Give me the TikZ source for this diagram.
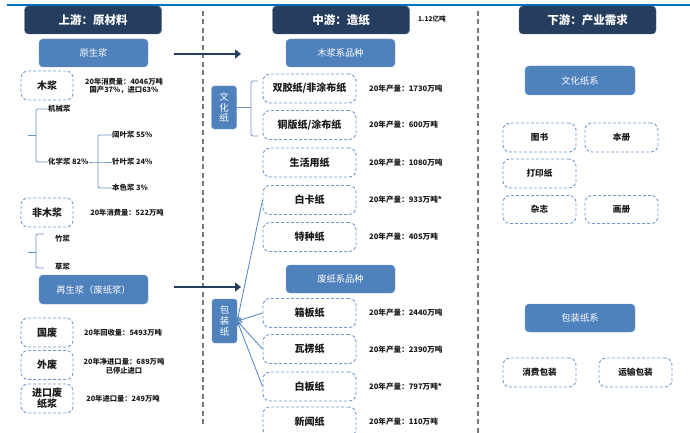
\documentclass[tikz,border=0pt]{standalone}
\usepackage{fontspec}
\setmainfont{Noto Sans CJK SC}
\usetikzlibrary{arrows.meta}
\definecolor{navy}{RGB}{37,61,94}
\definecolor{midblue}{RGB}{79,129,189}
\definecolor{dashblue}{RGB}{112,154,208}
\definecolor{topblue}{RGB}{0,112,192}
\definecolor{divgray}{RGB}{120,120,120}
\definecolor{txt}{RGB}{25,25,25}
\tikzset{
  hdr/.style={fill=navy,draw=navy!80!white,rounded corners=4pt,minimum width=137pt,minimum height=28pt,text=white,font=\fontsize{11.5}{12}\selectfont\bfseries,inner sep=0pt},
  bluebox/.style={fill=midblue,draw=midblue!80!white,rounded corners=4pt,minimum width=109pt,minimum height=28pt,text=white,font=\fontsize{9.3}{10}\selectfont,inner sep=0pt},
  vbox/.style={fill=midblue,draw=midblue!80!white,rounded corners=3pt,minimum width=25pt,text=white,font=\fontsize{9.5}{10.8}\selectfont,align=center,inner sep=0pt},
  dbox/.style={draw=dashblue,line width=0.9pt,dash pattern=on 3pt off 2pt,rounded corners=7pt,minimum height=29pt,inner sep=0pt,font=\fontsize{10}{11.5}\selectfont\bfseries,text=txt,align=center},
  lbox/.style={dbox,minimum width=52pt},
  mbox/.style={dbox,minimum width=93pt},
  rbox/.style={dbox,minimum width=73pt,font=\fontsize{8.6}{10}\selectfont\bfseries},
  data/.style={font=\fontsize{7.3}{8.6}\selectfont\bfseries,text=txt,inner sep=0pt,align=center},
  mdata/.style={data,anchor=west,font=\fontsize{7.6}{8.6}\selectfont\bfseries},
  blab/.style={font=\fontsize{7.4}{8.6}\selectfont\bfseries,text=txt,anchor=west,inner sep=0pt},
  brace/.style={draw=midblue!85!white,line width=0.8pt,rounded corners=2pt},
  bigarrow/.style={draw=navy,line width=2.8pt,-{Triangle[length=6pt,width=9pt]}},
  thin/.style={draw=midblue,line width=0.8pt,-{Stealth[length=5pt,width=5pt,open]}},
  divider/.style={draw=divgray,line width=1.1pt,dash pattern=on 5pt off 3.5pt},
}
\begin{document}
\begin{tikzpicture}[x=1pt,y=-1pt]
\useasboundingbox (0,0) rectangle (690,433);
% top line
\draw[topblue,line width=2.2pt] (7,5) -- (690,5);
% dividers
\draw[divider] (203,11) -- (203,425);
\draw[divider] (478,11) -- (478,433);
% headers
\node[hdr] (h1) at (93,20) {上游：原材料};
\node[hdr] (h2) at (341,20) {中游：造纸};
\node[hdr] (h3) at (587.5,20) {下游：产业需求};
\node[font=\fontsize{6.6}{7}\selectfont\bfseries,text=txt,anchor=west,inner sep=0pt] (total) at (418,19) {1.12亿吨};
% blue boxes
\node[bluebox] (yuansheng) at (93.5,53) {原生浆};
\node[bluebox,minimum height=29pt] (zaisheng) at (93.5,289.5) {再生浆（废纸浆）};
\node[bluebox] (mujiangxi) at (340.5,53) {木浆系品种};
\node[bluebox] (feizhixi) at (340.5,279) {废纸系品种};
\node[bluebox,minimum width=110pt,minimum height=29pt] (wenhuaxi) at (580,80.5) {文化纸系};
\node[bluebox,minimum width=110pt] (baozhuangxi) at (580,318) {包装纸系};
\node[vbox,minimum height=43pt] (wenhuazhi) at (224,107.5) {文\\化\\纸};
\node[vbox,minimum height=44pt] (baozhuangzhi) at (224.5,321) {包\\装\\纸};
% big arrows
\coordinate (a1s) at (174,54);
\coordinate (a1e) at (241,54);
\coordinate (a2s) at (174,287);
\coordinate (a2e) at (241,287);
\draw[bigarrow] (a1s) -- (a1e);
\draw[bigarrow] (a2s) -- (a2e);
% left dashed boxes
\node[lbox] (mujiang) at (47,85.5) {木浆};
\node[lbox] (feimu) at (47,212.5) {非木浆};
\node[lbox] (guofei) at (47,332.5) {国废};
\node[lbox] (waifei) at (47,365) {外废};
\node[lbox,font=\fontsize{10}{11}\selectfont\bfseries] (jinkou) at (47,398.5) {进口废\\纸浆};
% left data
\node[data] (d1) at (124,86) {20年消费量：4046万吨\\国产37\%，进口63\%};
\node[data] (d2) at (127,213) {20年消费量：522万吨};
\node[data] (d3) at (123,333) {20年回收量：5493万吨};
\node[data] (d4) at (124,366) {20年净进口量：689万吨\\已停止进口};
\node[data] (d5) at (123,399) {20年进口量：249万吨};
% bracket labels
\node[blab] (jixie) at (48,109) {机械浆};
\node[blab] (huaxue) at (48,162) {化学浆 82\%};
\node[blab] (kuoye) at (112,135) {阔叶浆 55\%};
\node[blab] (zhenye) at (112,162) {针叶浆 24\%};
\node[blab] (bense) at (112,188) {本色浆 3\%};
\node[blab] (zhujiang) at (55,239) {竹浆};
\node[blab] (caojiang) at (55,267) {草浆};
% brackets
\draw[brace] (jixie.west) -- (36,109) -- (36,162) -- (huaxue.west);
\draw[brace] (28,135.5) -- (36,135.5);
\draw[brace] (kuoye.west) -- (98,135) -- (98,188) -- (bense.west);
\draw[brace] (huaxue.east) -- (98,162) -- (zhenye.west);
\draw[brace] (44,234) -- (36,234) -- (36,268) -- (44,268);
\draw[brace] (28,252) -- (36,252);
% middle dashed boxes
\node[mbox] (shuangjiao) at (309.5,88.5) {双胶纸/非涂布纸};
\node[mbox] (tongban) at (309.5,125) {铜版纸/涂布纸};
\node[mbox] (shenghuo) at (309.5,162.5) {生活用纸};
\node[mbox] (baika) at (309.5,200) {白卡纸};
\node[mbox] (tezhong) at (309.5,237) {特种纸};
\node[mbox] (xiangban) at (309.5,313) {箱板纸};
\node[mbox] (waleng) at (309.5,349) {瓦楞纸};
\node[mbox] (baiban) at (309.5,386.5) {白板纸};
\node[mbox] (xinwen) at (309.5,421.5) {新闻纸};
% middle data
\node[mdata] (m1) at (369,89) {20年产量：1730万吨};
\node[mdata] (m2) at (369,125) {20年产量：600万吨};
\node[mdata] (m3) at (369,162.5) {20年产量：1080万吨};
\node[mdata] (m4) at (369,200) {20年产量：933万吨*};
\node[mdata] (m5) at (369,237) {20年产量：405万吨};
\node[mdata] (m6) at (369,313) {20年产量：2440万吨};
\node[mdata] (m7) at (369,350) {20年产量：2390万吨};
\node[mdata] (m8) at (369,387) {20年产量：797万吨*};
\node[mdata] (m9) at (369,422) {20年产量：110万吨};
% 文化纸 bracket
\draw[brace] (258,81) -- (251,81) -- (251,136) -- (258,136);
\draw[brace] (wenhuazhi.east) -- (251,107.5);
% 包装纸 lines
\draw[thin] (baika.west) -- (baozhuangzhi.east);
\draw[thin] (xiangban.west) -- (baozhuangzhi.east);
\draw[thin] (waleng.west) -- (baozhuangzhi.east);
\draw[thin] (baiban.west) -- (baozhuangzhi.east);
% right dashed boxes
\node[rbox] (tushu) at (539.5,137.5) {图书};
\node[rbox] (benche) at (621.5,137.5) {本册};
\node[rbox] (dayin) at (539.5,173.5) {打印纸};
\node[rbox,minimum height=28pt] (zazhi) at (539.5,209.5) {杂志};
\node[rbox,minimum height=28pt] (huace) at (621.5,209.5) {画册};
\node[rbox] (xiaofei) at (539.5,372.5) {消费包装};
\node[rbox] (yunshu) at (635.5,372.5) {运输包装};
\end{tikzpicture}
\end{document}
